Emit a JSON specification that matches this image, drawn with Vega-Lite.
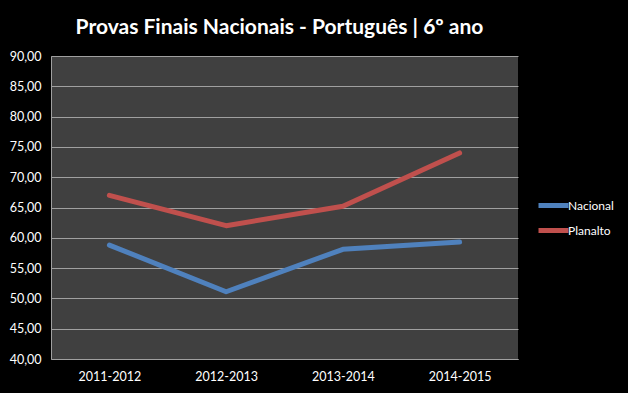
{
  "$schema": "https://vega.github.io/schema/vega-lite/v6.json",
  "width": 467,
  "height": 303,
  "autosize": "none",
  "padding": {"left": 51, "top": 56, "right": 110, "bottom": 34},
  "background": "#000000",
  "title": {
    "text": "Provas Finais Nacionais - Português | 6º ano",
    "font": "Lato",
    "fontSize": 21,
    "fontWeight": "bold",
    "color": "#ffffff",
    "anchor": "middle",
    "offset": 12,
    "dx": -5
  },
  "config": {
    "view": {"fill": "#404040", "stroke": null},
    "axis": {"labelFont": "Lato", "labelColor": "#ffffff", "labelFontSize": 12.5}
  },
  "data": {
    "values": [
      {"ano": "2011-2012", "serie": "Nacional", "valor": 58.8},
      {"ano": "2012-2013", "serie": "Nacional", "valor": 51.1},
      {"ano": "2013-2014", "serie": "Nacional", "valor": 58.1},
      {"ano": "2014-2015", "serie": "Nacional", "valor": 59.3},
      {"ano": "2011-2012", "serie": "Planalto", "valor": 67.0},
      {"ano": "2012-2013", "serie": "Planalto", "valor": 62.0},
      {"ano": "2013-2014", "serie": "Planalto", "valor": 65.2},
      {"ano": "2014-2015", "serie": "Planalto", "valor": 74.0}
    ]
  },
  "mark": {"type": "line", "strokeWidth": 5, "strokeCap": "round", "strokeJoin": "round"},
  "encoding": {
    "x": {
      "field": "ano",
      "type": "ordinal",
      "scale": {"type": "point", "padding": 0.5},
      "axis": {
        "title": null,
        "labelAngle": 0,
        "ticks": false,
        "domain": true,
        "domainColor": "#a0a0a0",
        "labelPadding": 11
      }
    },
    "y": {
      "field": "valor",
      "type": "quantitative",
      "scale": {"domain": [40, 90], "nice": false, "zero": false},
      "axis": {
        "title": null,
        "values": [40, 45, 50, 55, 60, 65, 70, 75, 80, 85, 90],
        "labelExpr": "replace(format(datum.value, '.2f'), '.', ',')",
        "ticks": false,
        "domain": true,
        "domainColor": "#a0a0a0",
        "grid": true,
        "gridColor": "#a0a0a0",
        "gridWidth": 1,
        "labelPadding": 10
      }
    },
    "color": {
      "field": "serie",
      "type": "nominal",
      "scale": {"domain": ["Nacional", "Planalto"], "range": ["#4F81BD", "#C0504D"]},
      "legend": {
        "title": null,
        "orient": "none",
        "legendX": 488,
        "legendY": 135,
        "symbolType": "M-1.25,0H1.25",
        "symbolSize": 576,
        "symbolStrokeWidth": 5,
        "labelColor": "#ffffff",
        "labelFont": "Lato",
        "labelFontSize": 12,
        "labelOffset": 0,
        "rowPadding": 0
      }
    }
  }
}
